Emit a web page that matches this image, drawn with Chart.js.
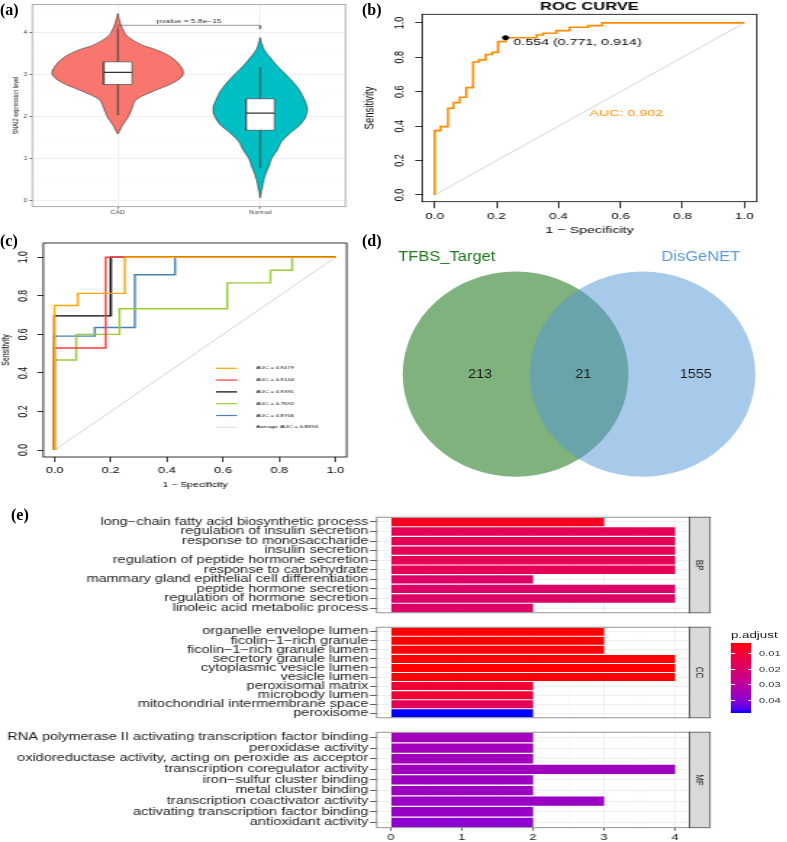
<!DOCTYPE html>
<html>
<head>
<meta charset="utf-8">
<script src="https://cdn.jsdelivr.net/npm/chart.js@4.4.1/dist/chart.umd.min.js"></script>
<style>
  body { margin: 0; background: #fff; width: 787px; height: 842px; overflow: hidden; position: relative; font-family: 'Liberation Sans', Arial, sans-serif; }
  .wrap { position: absolute; transform-origin: 0 0; }
  .wrap canvas { position: absolute; left: 0; display: block; }
  .tag { position: absolute; font: bold 16px 'Liberation Serif', serif; line-height: 16px; color: #000; }
  .lg { position: absolute; white-space: nowrap; color: #1a1a1a; }
</style>
</head>
<body>
<div class="wrap" style="left:0;top:0;width:257px;height:232px;transform:scaleX(1.4)"><canvas id="cA" width="257" height="232"></canvas></div>
<div class="wrap" style="left:360px;top:0;width:285px;height:240px;transform:scaleX(1.5)"><canvas id="cB" width="285" height="240"></canvas></div>
<div class="wrap" style="left:0;top:232px;width:240px;height:268px;transform:scaleX(1.5)"><canvas id="cC" width="240" height="268"></canvas></div>
<div class="wrap" style="left:360px;top:240px;width:388px;height:260px;transform:scaleX(1.1)"><canvas id="cD" width="388" height="260"></canvas></div>
<div class="wrap" id="wrapE" style="left:0;top:500px;width:543px;height:342px;transform:scaleX(1.45)">
  <canvas id="cBP" width="543" height="110" style="top:10px"></canvas>
  <canvas id="cCC" width="543" height="105" style="top:120px"></canvas>
  <canvas id="cMF" width="543" height="117" style="top:225px"></canvas>
</div>
<div class="tag" style="left:0;top:2px">(a)</div>
<div class="tag" style="left:362px;top:2px">(b)</div>
<div class="tag" style="left:0;top:233px">(c)</div>
<div class="tag" style="left:362px;top:233px">(d)</div>
<div class="tag" style="left:11px;top:507px">(e)</div>
<script>
// ---- (a) violin: SNAI2 expression ----
const groups = ['CAD', 'Normal'];
const cadLevels = [1.58, 1.7, 1.8, 2.0, 2.2, 2.4, 2.6, 2.8, 3.0, 3.2, 3.4, 3.5, 3.6, 3.7, 3.9, 4.0, 4.2, 4.45];
const cadWidths = [0, 0.02, 0.035, 0.075, 0.1, 0.13, 0.25, 0.39, 0.46, 0.44, 0.38, 0.33, 0.26, 0.17, 0.07, 0.047, 0.02, 0];
const normLevels = [0.06, 0.4, 0.6, 0.8, 1.0, 1.2, 1.4, 1.6, 1.8, 2.0, 2.2, 2.4, 2.6, 2.8, 3.0, 3.2, 3.4, 3.6, 3.88];
const normWidths = [0, 0.02, 0.035, 0.06, 0.08, 0.12, 0.15, 0.21, 0.28, 0.32, 0.33, 0.31, 0.28, 0.235, 0.18, 0.12, 0.07, 0.026, 0];
const boxQ1 = [2.76, 1.67];
const boxMed = [3.05, 2.08];
const boxQ3 = [3.30, 2.42];
const whiskLo = [2.03, 0.77];
const whiskHi = [4.09, 3.17];
const bracketX = [1, 1, 2, 2];
const bracketY = [4.1, 4.17, 4.17, 4.08];
const pText = 'pvalue = 5.8e−15';
const aYTicks = [0, 0.5, 1, 1.5, 2, 2.5, 3, 3.5, 4, 4.5];

// ---- (b) ROC curve ----
const rocFpr = [0, 0, 0.019, 0.043, 0.061, 0.081, 0.102, 0.124, 0.143, 0.165, 0.186, 0.205, 0.229, 0.329, 0.35, 0.393, 0.436, 0.496, 0.541, 1];
const rocTpr = [0, 0.374, 0.397, 0.504, 0.537, 0.568, 0.624, 0.773, 0.785, 0.816, 0.829, 0.891, 0.914, 0.93, 0.94, 0.955, 0.975, 0.984, 1, 1];
const cutFpr = 0.229, cutTpr = 0.914;
const cutLabel = '0.554 (0.771, 0.914)';
const aucLabel = 'AUC: 0.902';
const rocTicks = [0, 0.2, 0.4, 0.6, 0.8, 1];
const diagX = [0, 1], diagY = [0, 1];

// ---- (c) five ROC curves ----
const fpr1 = [0, 0, 0.083, 0.25, 1], tpr1 = [0, 0.75, 0.8125, 1, 1];
const fpr2 = [0, 0, 0.182, 1], tpr2 = [0, 0.529, 1, 1];
const fpr3 = [0, 0, 0.2, 1], tpr3 = [0, 0.696, 1, 1];
const fpr4 = [0, 0, 0.077, 0.231, 0.615, 0.769, 0.846, 1], tpr4 = [0, 0.467, 0.6, 0.733, 0.867, 0.933, 1, 1];
const fpr5 = [0, 0, 0.143, 0.286, 0.429, 1], tpr5 = [0, 0.591, 0.636, 0.909, 1, 1];
const cLegend = ['AUC = 0.9479', 'AUC = 0.9144', 'AUC = 0.9391', 'AUC = 0.7692', 'AUC = 0.8766', 'Average AUC = 0.8894'];
const cColors = ['#FFA500', '#FF3B3B', '#000000', '#9ACD32', '#4682B4', '#BEBEBE'];

// ---- (d) Venn ----
const vennSets = ['TFBS_Target', 'DisGeNET'];
const vennCounts = ['213', '21', '1555'];
const vennX = [0, 1.125];
const vennR = [1, 1];

// ---- (e) GO enrichment ----
const bpTerms = ['long−chain fatty acid biosynthetic process', 'regulation of insulin secretion', 'response to monosaccharide', 'insulin secretion', 'regulation of peptide hormone secretion', 'response to carbohydrate', 'mammary gland epithelial cell differentiation', 'peptide hormone secretion', 'regulation of hormone secretion', 'linoleic acid metabolic process'];
const bpCounts = [3, 4, 4, 4, 4, 4, 2, 4, 4, 2];
const bpP = [0.0065, 0.0155, 0.0155, 0.0155, 0.0155, 0.0155, 0.019, 0.019, 0.019, 0.019];
const ccTerms = ['organelle envelope lumen', 'ficolin−1−rich granule', 'ficolin−1−rich granule lumen', 'secretory granule lumen', 'cytoplasmic vesicle lumen', 'vesicle lumen', 'peroxisomal matrix', 'microbody lumen', 'mitochondrial intermembrane space', 'peroxisome'];
const ccCounts = [3, 3, 3, 4, 4, 4, 2, 2, 2, 2];
const ccP = [0.0034, 0.0034, 0.0034, 0.0036, 0.0036, 0.0036, 0.0095, 0.0095, 0.016, 0.0479];
const mfTerms = ['RNA polymerase II activating transcription factor binding', 'peroxidase activity', 'oxidoreductase activity, acting on peroxide as acceptor', 'transcription coregulator activity', 'iron−sulfur cluster binding', 'metal cluster binding', 'transcription coactivator activity', 'activating transcription factor binding', 'antioxidant activity'];
const mfCounts = [2, 2, 2, 4, 2, 2, 3, 2, 2];
const mfP = [0.0355, 0.0355, 0.0355, 0.036, 0.0365, 0.0365, 0.037, 0.0375, 0.039];
const goXTicks = [0, 0.5, 1, 1.5, 2, 2.5, 3, 3.5, 4];
const pBreaks = [0.01, 0.02, 0.03, 0.04];

Chart.defaults.font.family = "'Liberation Sans', Arial, sans-serif";
Chart.defaults.color = '#000';
Chart.defaults.animation = false;
Chart.defaults.events = [];
Chart.defaults.responsive = false;
Chart.defaults.devicePixelRatio = 1;
Chart.defaults.plugins.legend.display = false;
Chart.defaults.plugins.tooltip.enabled = false;

const F = size => `${size}px 'Liberation Sans', Arial, sans-serif`;
const pts = (xs, ys) => xs.map((x, i) => ({ x, y: ys[i] }));

// box around the plotting region
const frame = (color, width) => ({
  id: 'frame',
  afterDraw(chart) {
    const { ctx, chartArea: a } = chart;
    ctx.save();
    ctx.strokeStyle = color;
    ctx.lineWidth = width;
    ctx.strokeRect(a.left, a.top, a.right - a.left, a.bottom - a.top);
    ctx.restore();
  }
});

// free text, placed by data value (x/y) or pixel (px/py)
const notes = items => ({
  id: 'notes',
  afterDraw(chart) {
    const ctx = chart.ctx;
    items.forEach(it => {
      const pick = (v, c) => typeof v === 'function' ? v(c) : v;
      const x = it.px !== undefined ? pick(it.px, chart) : chart.scales.x.getPixelForValue(it.x);
      const y = it.py !== undefined ? pick(it.py, chart) : chart.scales.y.getPixelForValue(it.y);
      ctx.save();
      ctx.font = it.font;
      ctx.fillStyle = it.color || '#000';
      ctx.textAlign = it.align || 'center';
      ctx.textBaseline = it.baseline || 'middle';
      ctx.translate(x + (it.dx || 0), y + (it.dy || 0));
      if (it.rotate) ctx.rotate(it.rotate * Math.PI / 180);
      ctx.fillText(it.text, 0, 0);
      ctx.restore();
    });
  }
});

// R-style y tick labels, turned parallel to the axis
const sideTicks = (px, size) => ({
  id: 'sideTicks',
  afterDraw(chart) {
    const ctx = chart.ctx, s = chart.scales.y;
    ctx.save();
    ctx.font = F(size);
    ctx.fillStyle = '#000';
    ctx.textAlign = 'center';
    ctx.textBaseline = 'middle';
    s.ticks.forEach(t => {
      ctx.save();
      ctx.translate(px, s.getPixelForValue(t.value));
      ctx.rotate(-Math.PI / 2);
      ctx.fillText(t.value.toFixed(1), 0, 0);
      ctx.restore();
    });
    ctx.restore();
  }
});

const midX = c => (c.chartArea.left + c.chartArea.right) / 2;
const midY = c => (c.chartArea.top + c.chartArea.bottom) / 2;

function rocScales(o) {
  return {
    x: {
      type: 'linear', min: o.xMin, max: o.xMax,
      afterFit: s => { s.height = o.xH; },
      afterBuildTicks: s => { s.ticks = rocTicks.map(v => ({ value: v })); },
      grid: { drawOnChartArea: false, drawTicks: true, tickLength: o.xTL, tickColor: '#000', tickWidth: 0.8 },
      border: { display: false },
      ticks: { font: { size: o.tickSize }, color: '#000', padding: o.xPad, maxRotation: 0, callback: v => v.toFixed(1) }
    },
    y: {
      type: 'linear', min: o.yMin, max: o.yMax,
      afterFit: s => { s.width = o.yW; },
      afterBuildTicks: s => { s.ticks = rocTicks.map(v => ({ value: v })); },
      grid: { drawOnChartArea: false, drawTicks: true, tickLength: o.yTL, tickColor: '#000', tickWidth: 0.8 },
      border: { display: false },
      ticks: { display: false }
    }
  };
}

// ---------- (a) ----------
function violin(center, levels, widths) {
  const right = levels.map((y, i) => ({ x: center + widths[i], y }));
  const left = levels.map((y, i) => ({ x: center - widths[i], y })).reverse();
  return right.concat(left);
}
const boxHalf = 0.1;
const aSets = [];
[[cadLevels, cadWidths, '#F8766D'], [normLevels, normWidths, '#00BFC4']].forEach(([lv, wd, col], i) => {
  const c = i + 1;
  aSets.push({ data: violin(c, lv, wd), showLine: true, fill: 'shape', backgroundColor: col, borderColor: '#333', borderWidth: 0.6, tension: 0.35, pointRadius: 0, order: 5 });
  aSets.push({ data: [{ x: c, y: whiskLo[i] }, { x: c, y: whiskHi[i] }], showLine: true, borderColor: '#333', borderWidth: 0.9, pointRadius: 0, order: 4 });
  aSets.push({ data: [{ x: c - boxHalf, y: boxQ1[i] }, { x: c + boxHalf, y: boxQ1[i] }, { x: c + boxHalf, y: boxQ3[i] }, { x: c - boxHalf, y: boxQ3[i] }, { x: c - boxHalf, y: boxQ1[i] }],
    showLine: true, fill: 'shape', backgroundColor: '#fff', borderColor: '#333', borderWidth: 0.6, pointRadius: 0, order: 3 });
  aSets.push({ data: [{ x: c - boxHalf, y: boxMed[i] }, { x: c + boxHalf, y: boxMed[i] }], showLine: true, borderColor: '#333', borderWidth: 1.2, pointRadius: 0, order: 2 });
});
aSets.push({ data: pts(bracketX, bracketY), showLine: true, borderColor: '#555', borderWidth: 0.6, pointRadius: 0, order: 1 });

new Chart(document.getElementById('cA'), {
  type: 'scatter',
  data: { datasets: aSets },
  options: {
    layout: { padding: { left: 0, right: 10.1, top: 4.3, bottom: 0 } },
    scales: {
      x: {
        type: 'linear', min: 0.4, max: 2.6,
        afterFit: s => { s.height = 25.3; },
        afterBuildTicks: s => { s.ticks = groups.map((g, i) => ({ value: i + 1 })); },
        grid: { color: '#EBEBEB', lineWidth: 0.8, tickLength: 2, tickColor: '#4d4d4d' },
        border: { display: false },
        ticks: { font: { size: 5 }, color: '#4d4d4d', padding: 1, maxRotation: 0, callback: v => groups[v - 1] }
      },
      y: {
        type: 'linear', min: -0.15, max: 4.665,
        afterFit: s => { s.width = 23.1; },
        afterBuildTicks: s => { s.ticks = aYTicks.map(v => ({ value: v })); },
        grid: {
          color: c => Number.isInteger(c.tick.value) ? '#EBEBEB' : '#F5F5F5',
          lineWidth: c => Number.isInteger(c.tick.value) ? 0.8 : 0.4,
          tickLength: 2,
          tickColor: c => Number.isInteger(c.tick.value) ? '#4d4d4d' : 'rgba(0,0,0,0)'
        },
        border: { display: false },
        ticks: { font: { size: 5 }, color: '#4d4d4d', padding: 1.5, callback: v => Number.isInteger(v) ? v : '' }
      }
    }
  },
  plugins: [frame('#8a8a8a', 0.7), notes([
    { text: 'SNAI2 expression level', px: 11.2, py: midY, rotate: -90, font: F(5.6), color: '#1a1a1a' },
    { text: pText, x: 1.5, y: bracketY[1], dy: -0.8, baseline: 'bottom', font: F(6), color: '#333' }
  ])]
});

// ---------- (b) ----------
new Chart(document.getElementById('cB'), {
  type: 'scatter',
  data: {
    datasets: [
      { data: [{ x: cutFpr, y: cutTpr }], pointRadius: 2, backgroundColor: '#000', borderColor: '#000', order: 1 },
      { data: pts(rocFpr, rocTpr), showLine: true, stepped: 'before', borderColor: '#FF8C00', borderWidth: 1.6, pointRadius: 0, order: 2 },
      { data: pts(diagX, diagY), showLine: true, borderColor: '#C8C8C8', borderWidth: 0.8, pointRadius: 0, order: 3 }
    ]
  },
  options: {
    layout: { padding: { left: 0, right: 20.5, top: 14.3, bottom: 0 } },
    scales: rocScales({ xMin: -0.04, xMax: 1.04, yMin: -0.039, yMax: 1.05, xH: 38.3, yW: 41.5, xTL: 6.5, yTL: 4.7, tickSize: 9, xPad: 3 })
  },
  plugins: [frame('#000', 0.8), sideTicks(26.7, 9), notes([
    { text: 'ROC CURVE', px: midX, py: 6.5, font: 'bold ' + F(11) },
    { text: '1 − Specificity', px: midX, py: 230, font: F(9.5) },
    { text: 'Sensitivity', px: 6.7, py: midY, rotate: -90, font: F(9.5) },
    { text: cutLabel, x: cutFpr, y: cutTpr, dx: 5.2, dy: 5, align: 'left', font: F(9.5) },
    { text: aucLabel, x: 0.5, y: 0.5, align: 'left', baseline: 'top', font: F(9.5), color: '#FF8C00' }
  ])]
});

// ---------- (c) ----------
const cCurves = [[fpr1, tpr1], [fpr2, tpr2], [fpr3, tpr3], [fpr4, tpr4], [fpr5, tpr5], [diagX, diagY]];
const cLegendPlugin = {
  id: 'cLegend',
  afterDraw(chart) {
    const ctx = chart.ctx;
    ctx.save();
    ctx.font = F(4);
    ctx.textBaseline = 'middle';
    cLegend.forEach((t, i) => {
      const y = 136.3 + i * 11.8;
      ctx.strokeStyle = cColors[i];
      ctx.lineWidth = i === 5 ? 0.6 : 1.2;
      ctx.beginPath(); ctx.moveTo(144, y); ctx.lineTo(158, y); ctx.stroke();
      ctx.fillStyle = '#000';
      ctx.fillText(t, 170.7, y);
    });
    ctx.restore();
  }
};
new Chart(document.getElementById('cC'), {
  type: 'scatter',
  data: {
    datasets: cCurves.map(([xs, ys], i) => ({
      data: pts(xs, ys), showLine: true, stepped: i < 5 ? 'before' : false,
      borderColor: cColors[i], borderWidth: i < 5 ? 1.4 : 0.7, pointRadius: 0, order: i + 1
    }))
  },
  options: {
    layout: { padding: { left: 0, right: 8.9, top: 11, bottom: 0 } },
    scales: rocScales({ xMin: -0.04, xMax: 1.04, yMin: -0.036, yMax: 1.074, xH: 43, yW: 28.9, xTL: 5, yTL: 4, tickSize: 8.6, xPad: 3 })
  },
  plugins: [frame('#000', 0.8), sideTicks(15.7, 8.6), cLegendPlugin, notes([
    { text: '1 − Specificity', px: midX, py: 253, font: F(7) },
    { text: 'Sensitivity', px: 3.8, py: midY, rotate: -90, font: F(7) }
  ])]
});

// ---------- (d) ----------
const vennFill = ['rgb(127,178,125)', 'rgba(81,149,213,0.5)'];
const vennText = ['#1B7A1B', '#5B9BD5'];
// each set is a circle of radius vennR around (vennX, 0), drawn through the chart scales
const vennCircles = {
  id: 'vennCircles',
  beforeDatasetsDraw(chart) {
    const { ctx, scales: { x, y } } = chart;
    chart.data.datasets.forEach((ds, i) => {
      const p = ds.data[0];
      const cx = x.getPixelForValue(p.x), cy = y.getPixelForValue(p.y);
      const rx = x.getPixelForValue(p.x + vennR[i]) - cx;
      const ry = cy - y.getPixelForValue(p.y + vennR[i]);
      ctx.save();
      ctx.beginPath();
      ctx.ellipse(cx, cy, rx, ry, 0, 0, 2 * Math.PI);
      ctx.fillStyle = vennFill[i];
      ctx.fill();
      ctx.restore();
    });
  }
};
new Chart(document.getElementById('cD'), {
  type: 'scatter',
  data: {
    datasets: vennSets.map((name, i) => ({ label: name, data: [{ x: vennX[i], y: 0 }], pointRadius: 0 }))
  },
  options: {
    layout: { padding: 0 },
    scales: {
      x: { type: 'linear', display: false, min: -1.378, max: 2.403 },
      y: { type: 'linear', display: false, min: -1.226, max: 1.308 }
    }
  },
  plugins: [vennCircles, notes([
    { text: vennCounts[0], x: -0.315, y: 0, font: F(13), color: '#1a1a1a' },
    { text: vennCounts[1], x: 0.6, y: 0, font: F(13), color: '#1a1a1a' },
    { text: vennCounts[2], x: 1.597, y: 0, font: F(13), color: '#1a1a1a' },
    { text: vennSets[0], x: -0.61, y: 1.145, font: F(15), color: vennText[0] },
    { text: vennSets[1], x: 1.641, y: 1.145, font: F(15), color: vennText[1] }
  ])]
});

// ---------- (e) ----------
function lin(c) { c /= 255; return c <= 0.04045 ? c / 12.92 : Math.pow((c + 0.055) / 1.055, 2.4); }
function gam(c) { c = c <= 0.0031308 ? 12.92 * c : 1.055 * Math.pow(c, 1 / 2.4) - 0.055; return Math.round(255 * Math.min(1, Math.max(0, c))); }
function rgb2lab(rgb) {
  const [r, g, b] = rgb.map(lin);
  const f = t => t > 0.008856 ? Math.cbrt(t) : 7.787 * t + 16 / 116;
  const fx = f((0.4124 * r + 0.3576 * g + 0.1805 * b) / 0.95047);
  const fy = f(0.2126 * r + 0.7152 * g + 0.0722 * b);
  const fz = f((0.0193 * r + 0.1192 * g + 0.9505 * b) / 1.08883);
  return [116 * fy - 16, 500 * (fx - fy), 200 * (fy - fz)];
}
function lab2rgb([L, a, bb]) {
  const fy = (L + 16) / 116, fx = fy + a / 500, fz = fy - bb / 200;
  const inv = t => t * t * t > 0.008856 ? t * t * t : (t - 16 / 116) / 7.787;
  const X = inv(fx) * 0.95047, Y = inv(fy), Z = inv(fz) * 1.08883;
  return `rgb(${gam(3.2406 * X - 1.5372 * Y - 0.4986 * Z)},${gam(-0.9689 * X + 1.8758 * Y + 0.0415 * Z)},${gam(0.0557 * X - 0.2040 * Y + 1.0570 * Z)})`;
}
const lowLab = rgb2lab([255, 0, 0]), highLab = rgb2lab([0, 0, 255]);
const allP = bpP.concat(ccP, mfP);
const pMin = Math.min(...allP), pMax = Math.max(...allP);
const mixLab = t => lab2rgb(lowLab.map((v, k) => v + t * (highLab[k] - v)));
const pColor = p => mixLab((p - pMin) / (pMax - pMin));

const strip = label => ({
  id: 'strip',
  afterDraw(chart) {
    const { ctx, chartArea: a } = chart, w = 14.3;
    ctx.save();
    ctx.fillStyle = '#D9D9D9';
    ctx.fillRect(a.right, a.top, w, a.bottom - a.top);
    ctx.strokeStyle = '#4d4d4d';
    ctx.lineWidth = 0.8;
    ctx.strokeRect(a.right, a.top, w, a.bottom - a.top);
    ctx.translate(a.right + w / 2, (a.top + a.bottom) / 2);
    ctx.rotate(Math.PI / 2);
    ctx.font = F(8);
    ctx.fillStyle = '#1a1a1a';
    ctx.textAlign = 'center';
    ctx.textBaseline = 'middle';
    ctx.fillText(label, 0, 0);
    ctx.restore();
  }
});

function goChart(id, terms, counts, pvals, facet, pad, showX) {
  return new Chart(document.getElementById(id), {
    type: 'bar',
    data: { labels: terms, datasets: [{ data: counts, backgroundColor: pvals.map(pColor), borderWidth: 0, categoryPercentage: 1, barPercentage: 0.88 }] },
    options: {
      indexAxis: 'y',
      layout: { padding: pad },
      scales: {
        x: {
          type: 'linear', min: -0.2, max: 4.2,
          afterFit: s => { s.height = showX ? 14.3 : 0; },
          afterBuildTicks: s => { s.ticks = goXTicks.map(v => ({ value: v })); },
          grid: {
            color: c => Number.isInteger(c.tick.value) ? '#EBEBEB' : '#F5F5F5',
            lineWidth: c => Number.isInteger(c.tick.value) ? 0.8 : 0.5,
            drawTicks: showX, tickLength: 3,
            tickColor: c => Number.isInteger(c.tick.value) ? '#333' : 'rgba(0,0,0,0)'
          },
          border: { display: false },
          ticks: { display: showX, font: { size: 9 }, color: '#1a1a1a', padding: 1, maxRotation: 0, callback: v => Number.isInteger(v) ? v : '' }
        },
        y: {
          type: 'category', offset: true,
          afterFit: s => { s.width = 259.8; },
          grid: { offset: false, color: '#EBEBEB', lineWidth: 0.8, tickLength: 4.6, tickColor: '#333' },
          border: { display: false },
          ticks: { autoSkip: false, font: { size: 10 }, color: '#1a1a1a', padding: 1.2 }
        }
      }
    },
    plugins: [frame('#7a7a7a', 0.8), strip(facet)]
  });
}
goChart('cBP', bpTerms, bpCounts, bpP, 'BP', { left: 0, right: 67.6, top: 5.7, bottom: 3.7 }, false);
goChart('cCC', ccTerms, ccCounts, ccP, 'CC', { left: 0, right: 67.6, top: 1, bottom: 3.3 }, false);
goChart('cMF', mfTerms, mfCounts, mfP, 'MF', { left: 0, right: 67.6, top: 2.3, bottom: 0 }, true);

// colour bar legend for p.adjust
(function () {
  const wrap = document.getElementById('wrapE');
  const L = 503.9, T = 143.3, W = 14.5, H = 69.4;
  const stops = [];
  for (let i = 0; i <= 20; i++) stops.push(`${mixLab(i / 20)} ${i * 5}%`);
  const add = (html, css) => { const d = document.createElement('div'); d.className = 'lg'; d.innerHTML = html; d.style.cssText += css; wrap.appendChild(d); return d; };
  add('p.adjust', `left:${L + 0.2}px;top:130px;font-size:9.2px;line-height:10px;`);
  add('', `left:${L}px;top:${T}px;width:${W}px;height:${H}px;background:linear-gradient(to bottom, ${stops.join(',')});`);
  pBreaks.forEach(b => {
    const y = T + (b - pMin) / (pMax - pMin) * H;
    add('', `left:${L}px;top:${y - 0.3}px;width:2.9px;height:0.6px;background:#fff;`);
    add('', `left:${L + W - 2.9}px;top:${y - 0.3}px;width:2.9px;height:0.6px;background:#fff;`);
    add(b.toFixed(2), `left:523.4px;top:${y - 4.5}px;font-size:7.7px;line-height:9px;color:#333;`);
  });
})();
</script>
</body>
</html>
